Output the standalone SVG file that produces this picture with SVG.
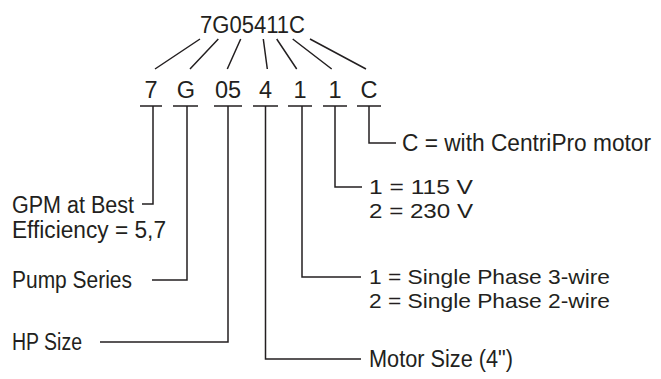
<svg xmlns="http://www.w3.org/2000/svg" width="661" height="379" viewBox="0 0 661 379">
<style>
text{font-family:"Liberation Sans",Arial,sans-serif;font-size:23.5px;fill:#231f20}
.s{font-size:21px}
.c{text-anchor:middle}
.ln{fill:none;stroke:#231f20;stroke-width:1.5}
</style>
<rect width="661" height="379" fill="#fff"/>
<g id="title"><text x="200" y="33" textLength="105" lengthAdjust="spacingAndGlyphs">7G05411C</text></g>
<g id="codes">
<text class="c" x="151" y="98">7</text>
<text class="c" x="186" y="98">G</text>
<text class="c" x="228" y="98">05</text>
<text class="c" x="265.5" y="98">4</text>
<text class="c" x="300" y="98">1</text>
<text class="c" x="335" y="98">1</text>
<text class="c" x="369" y="98">C</text>
</g>
<g id="labels">
<text x="12" y="213"><tspan x="12" textLength="122" lengthAdjust="spacingAndGlyphs">GPM at Best</tspan><tspan x="12" dy="25" textLength="154" lengthAdjust="spacingAndGlyphs">Efficiency = 5,7</tspan></text>
<text x="12" y="288" textLength="120" lengthAdjust="spacingAndGlyphs">Pump Series</text>
<text x="12" y="350" textLength="70" lengthAdjust="spacingAndGlyphs">HP Size</text>
<text x="402" y="151" textLength="249" lengthAdjust="spacingAndGlyphs">C = with CentriPro motor</text>
<text class="s" x="369" y="194"><tspan x="369" textLength="104" lengthAdjust="spacingAndGlyphs">1 = 115 V</tspan><tspan x="369" dy="24" textLength="104" lengthAdjust="spacingAndGlyphs">2 = 230 V</tspan></text>
<text class="s" x="369" y="284"><tspan x="369" textLength="241" lengthAdjust="spacingAndGlyphs">1 = Single Phase 3-wire</tspan><tspan x="369" dy="24" textLength="241" lengthAdjust="spacingAndGlyphs">2 = Single Phase 2-wire</tspan></text>
<text x="369" y="367" textLength="144" lengthAdjust="spacingAndGlyphs">Motor Size (4")</text>
</g>
<g id="connectors" class="ln">
<path d="M200 39L155 69M218.3 39L190 69M240.7 39L227.3 69M263.3 39L267.3 69M276.7 39L296.7 69M292.7 39L331.7 69M310 39L366 69"/>
<path d="M140 106H162M173 106H198M214 106H242M253 106H278M288 106H312M323 106H347M357 106H381"/>
<path d="M153 106V204H142"/>
<path d="M187 106V280H152"/>
<path d="M228 106V342H100"/>
<path d="M265.5 106V359H361"/>
<path d="M302 106V277H361"/>
<path d="M335 106V187H362"/>
<path d="M369 106V143H396"/>
</g>
</svg>
